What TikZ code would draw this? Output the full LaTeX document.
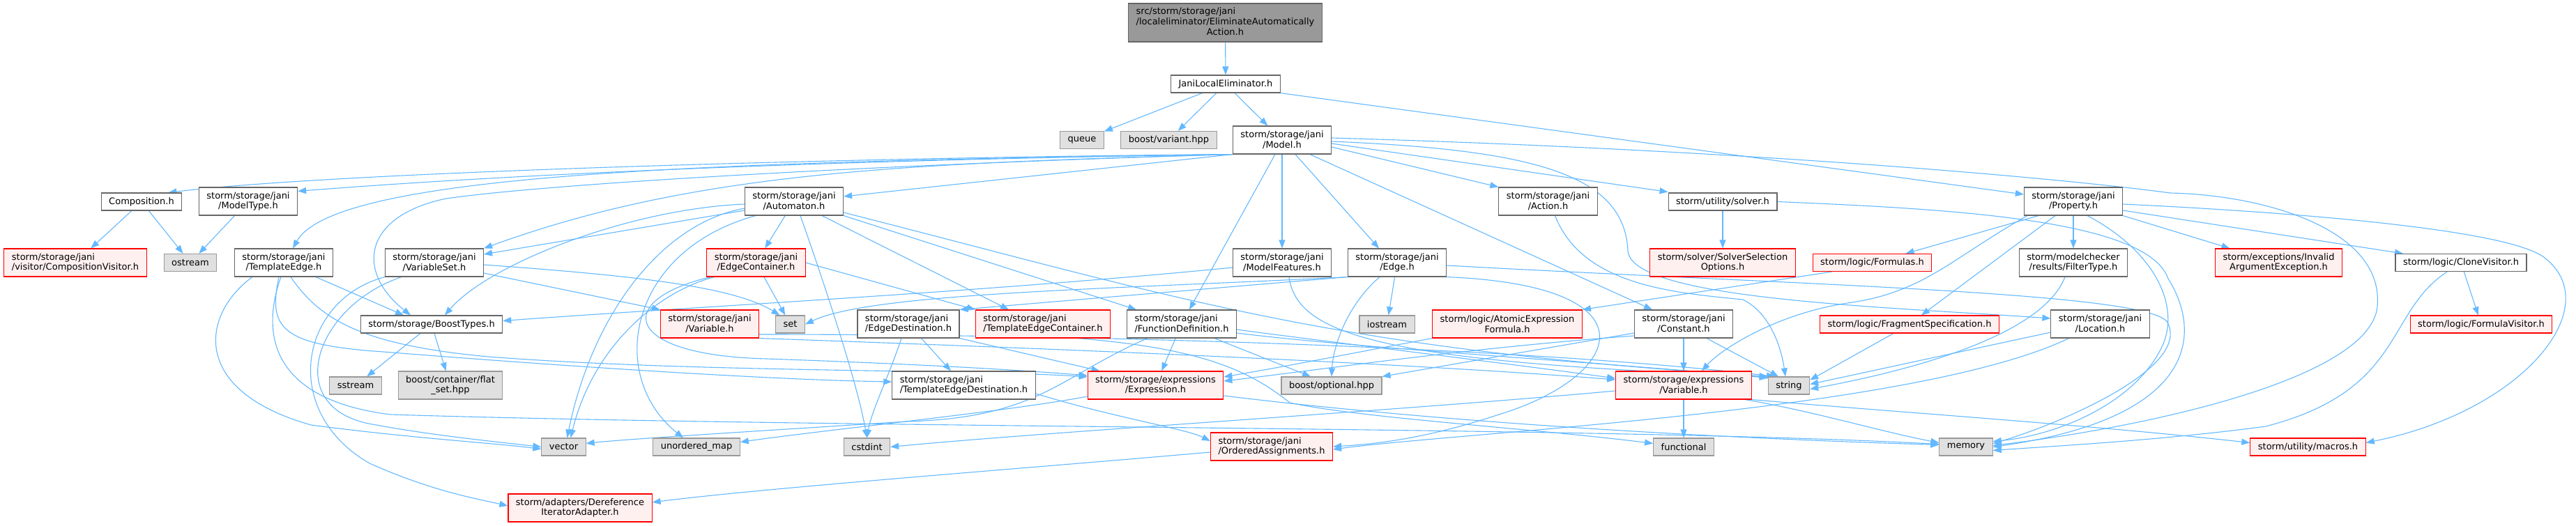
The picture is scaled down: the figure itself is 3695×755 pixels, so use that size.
\documentclass[tikz,border=0pt]{standalone}
\usepackage{fontspec}
\setmainfont{DejaVu Sans}
\usetikzlibrary{arrows.meta}
\definecolor{edgeblue}{HTML}{63B8FF}
\definecolor{boxgray}{HTML}{666666}
\definecolor{sysgray}{HTML}{999999}
\definecolor{sysfill}{HTML}{E0E0E0}
\definecolor{truncfill}{HTML}{FFF0F0}
\definecolor{focusfill}{HTML}{999999}
\newcommand\dxfont{\fontsize{13}{14.7}\selectfont}
\pgfdeclarelayer{bg}
\pgfsetlayers{bg,main}
\tikzset{
  hdr/.style={draw=boxgray,line width=1.1pt,fill=white,font=\dxfont,align=center,
    inner xsep=11pt,inner ysep=2pt,minimum height=25pt},
  tworow/.style={minimum height=40pt},
  sys/.style={hdr,draw=sysgray,fill=sysfill},
  trunc/.style={hdr,draw=red,fill=truncfill},
  dep/.style={draw=edgeblue,line width=1.1pt,-{Triangle[length=12pt,width=9pt]}},
}
\begin{document}
\begin{tikzpicture}[x=1pt,y=-1pt]
\useasboundingbox (0,0) rectangle (3695,755);
% rank 0-2
\node[hdr,fill=focusfill,minimum height=55pt] (focus) at (1757.5,32.5)
  {\begin{tabular}{@{}l@{}}src/storm/storage/jani\\/localeliminator/EliminateAutomatically\\\multicolumn{1}{@{}c@{}}{Action.h}\end{tabular}};
\node[hdr] (jle) at (1758,120.5) {JaniLocalEliminator.h};
\node[sys] (queue) at (1552,201) {queue};
\node[sys] (variant) at (1676.5,201) {boost/variant.hpp};
\node[hdr,tworow] (model) at (1839,201) {storm/storage/jani\\/Model.h};
% rank 3
\node[hdr] (composition) at (203,289.5) {Composition.h};
\node[hdr,tworow] (modeltype) at (356,289) {storm/storage/jani\\/ModelType.h};
\node[hdr,tworow] (automaton) at (1139,289) {storm/storage/jani\\/Automaton.h};
\node[hdr,tworow] (action) at (2220.5,289) {storm/storage/jani\\/Action.h};
\node[hdr] (solver) at (2471,289.5) {storm/utility/solver.h};
\node[hdr,tworow] (property) at (2974,289) {storm/storage/jani\\/Property.h};
% rank 4
\node[trunc,tworow,align=left] (compvisitor) at (108,377) {storm/storage/jani\\/visitor/CompositionVisitor.h};
\node[sys] (ostream) at (273,377) {ostream};
\node[hdr,tworow] (tedge) at (407,377) {storm/storage/jani\\/TemplateEdge.h};
\node[hdr,tworow] (varset) at (623,377) {storm/storage/jani\\/VariableSet.h};
\node[trunc,tworow] (edgecont) at (1084.5,377) {storm/storage/jani\\/EdgeContainer.h};
\node[hdr,tworow] (features) at (1839,377) {storm/storage/jani\\/ModelFeatures.h};
\node[hdr,tworow] (janiedge) at (2004,377) {storm/storage/jani\\/Edge.h};
\node[trunc,tworow] (solveropt) at (2471,377) {storm/solver/SolverSelection\\Options.h};
\node[trunc] (formulas) at (2685.5,377) {storm/logic/Formulas.h};
\node[hdr,tworow] (filtertype) at (2974,377) {storm/modelchecker\\/results/FilterType.h};
\node[trunc,tworow] (invalidarg) at (3268.5,377) {storm/exceptions/Invalid\\ArgumentException.h};
\node[hdr] (clonevis) at (3530,377) {storm/logic/CloneVisitor.h};
% rank 5
\node[hdr] (boosttypes) at (619,465.5) {storm/storage/BoostTypes.h};
\node[trunc,tworow] (janivar) at (1018,465) {storm/storage/jani\\/Variable.h};
\node[sys] (stdset) at (1133.5,465.5) {set};
\node[hdr,tworow,align=left] (edgedest) at (1303,465) {storm/storage/jani\\/EdgeDestination.h};
\node[trunc,tworow,align=left] (tecont) at (1496,465) {storm/storage/jani\\/TemplateEdgeContainer.h};
\node[hdr,tworow,align=left] (fundef) at (1695,465) {storm/storage/jani\\/FunctionDefinition.h};
\node[sys] (iostream) at (1989.5,465.5) {iostream};
\node[trunc,tworow] (atomic) at (2162,465) {storm/logic/AtomicExpression\\Formula.h};
\node[hdr,tworow] (constant) at (2415,465) {storm/storage/jani\\/Constant.h};
\node[trunc] (fragment) at (2739,465.5) {storm/logic/FragmentSpecification.h};
\node[hdr,tworow] (location) at (3012.5,465) {storm/storage/jani\\/Location.h};
\node[trunc] (formvis) at (3559,465.5) {storm/logic/FormulaVisitor.h};
% rank 6
\node[sys] (sstream) at (510,553.5) {sstream};
\node[sys,tworow] (flatset) at (646,553) {boost/container/flat\\\_set.hpp};
\node[hdr,tworow,align=left] (tedgedest) at (1382.5,553) {storm/storage/jani\\/TemplateEdgeDestination.h};
\node[trunc,tworow] (expression) at (1657.5,553) {storm/storage/expressions\\/Expression.h};
\node[sys] (optional) at (1910,553.5) {boost/optional.hpp};
\node[trunc,tworow] (exprvar) at (2415,553) {storm/storage/expressions\\/Variable.h};
\node[sys] (stdstring) at (2566,553.5) {string};
% rank 7-8
\node[sys] (stdvector) at (808.5,641.5) {vector};
\node[sys] (umap) at (999,641.5) {unordered\_map};
\node[sys] (cstdint) at (1243.5,641.5) {cstdint};
\node[trunc,tworow,align=left] (ordered) at (1824,641) {storm/storage/jani\\/OrderedAssignments.h};
\node[sys] (functional) at (2415,641.5) {functional};
\node[sys] (stdmemory) at (2820,641.5) {memory};
\node[trunc] (macros) at (3310.5,641.5) {storm/utility/macros.h};
\node[trunc,tworow] (deref) at (832,729) {storm/adapters/Dereference\\IteratorAdapter.h};

\begin{pgfonlayer}{bg}
% top
\draw[dep] (focus) -- (jle);
\draw[dep] (jle) -- (queue);
\draw[dep] (jle) -- (variant);
\draw[dep] (jle) -- (model);
\draw[dep] (jle.south east) -- ([yshift=10pt]property.west);
% Model.h
\draw[dep] (model.south west) .. controls (1300,225) and (500,245) .. ([xshift=-20pt]composition.north east);
\draw[dep] (model.south west) .. controls (1300,228) and (800,245) .. ([yshift=-6pt]modeltype.north east);
\draw[dep] (model.south west) .. controls (1000,232) and (480,250) .. ([xshift=13pt]tedge.north);
\draw[dep] (model.south west) .. controls (1300,235) and (800,262) .. (640,285) .. controls (520,310) and (510,390) .. ([xshift=-30pt]boosttypes.north);
\draw[dep] (model.south west) .. controls (1300,235) and (1000,245) .. (varset.north east);
\draw[dep] (model.south west) -- ([yshift=7pt]automaton.east);
\draw[dep] ([xshift=-10pt]model.south) -- ([xshift=11pt]fundef.north);
\draw[dep] (model) -- (features);
\draw[dep] ([xshift=19pt]model.south) -- ([xshift=-26pt]janiedge.north);
\draw[dep] ([xshift=40pt]model.south) -- ([xshift=-45pt]constant.north);
\draw[dep] ([yshift=-10pt]model.east) -- (action.north west);
\draw[dep] ([yshift=-5pt]model.east) -- ([yshift=14pt]solver.west);
\draw[dep] ([yshift=-2pt]model.east) .. controls (2200,215) and (2330,250) .. (2335,360) .. controls (2340,430) and (2700,440) .. ([yshift=8pt]location.west);
\draw[dep] ([yshift=3pt]model.east) .. controls (2500,215) and (2950,255) .. (3113,277) .. controls (3250,280) and (3420,330) .. (3410,440) .. controls (3400,540) and (3100,610) .. ([yshift=2pt]stdmemory.east);
% left part
\draw[dep] (composition) -- (compvisitor);
\draw[dep] (composition) -- (ostream);
\draw[dep] (modeltype) -- (ostream);
\draw[dep] ([xshift=46pt]tedge.south) -- ([xshift=-40pt]boosttypes.north);
\draw[dep] ([xshift=-45pt]tedge.south) .. controls (290,450) and (270,560) .. (446,610) .. controls (600,630) and (700,635) .. ([yshift=-3pt]stdvector.west);
\draw[dep] ([xshift=-7pt]tedge.south) .. controls (385,470) and (400,495) .. (550,505) .. controls (800,525) and (1100,545) .. ([yshift=5pt]tedgedest.west);
\draw[dep] ([xshift=10pt]tedge.south) .. controls (460,460) and (520,495) .. (700,512) .. controls (1000,535) and (1400,530) .. ([yshift=12pt]expression.west);
\draw[dep] ([xshift=-4pt]tedge.south) .. controls (370,490) and (400,575) .. (560,595) .. controls (1200,615) and (2300,612) .. ([yshift=4pt]stdmemory.west);
\draw[dep] (boosttypes) -- (sstream);
\draw[dep] (boosttypes) -- (flatset);
% VariableSet.h
\draw[dep] ([yshift=-3pt]varset.east) .. controls (900,395) and (1050,410) .. ([xshift=-15pt]stdset.north);
\draw[dep] ([yshift=-15pt]varset.east) -- (janivar.north west);
\draw[dep] ([xshift=-47pt]varset.south) .. controls (450,440) and (400,590) .. (540,610) .. controls (620,625) and (720,635) .. (stdvector.west);
\draw[dep] (varset.south west) .. controls (430,430) and (400,590) .. (530,665) .. controls (620,705) and (680,715) .. ([yshift=3pt]deref.west);
% Automaton.h
\draw[dep] ([yshift=-13pt]automaton.west) -- ([yshift=12pt]varset.east);
\draw[dep] ([yshift=-4pt]automaton.west) .. controls (900,300) and (700,380) .. ([xshift=19pt]boosttypes.north);
\draw[dep] ([yshift=-10pt]automaton.west) .. controls (950,320) and (850,450) .. ([xshift=5pt]stdvector.north);
\draw[dep] ([xshift=-55pt]automaton.south) .. controls (900,360) and (870,540) .. ([xshift=-19pt]umap.north);
\draw[dep] (automaton) -- (edgecont);
\draw[dep] ([xshift=9pt]automaton.south) .. controls (1180,400) and (1230,550) .. (cstdint.north);
\draw[dep] ([xshift=40pt]automaton.south) -- ([xshift=-49pt]tecont.north);
\draw[dep] (automaton.south east) -- ([xshift=-65pt]fundef.north);
\draw[dep] ([yshift=-16pt]automaton.east) .. controls (1700,430) and (1900,500) .. (stdstring.north west);
% EdgeContainer.h
\draw[dep] (edgecont) -- (stdset);
\draw[dep] ([xshift=-60pt]edgecont.south) .. controls (940,420) and (850,500) .. ([xshift=10pt]stdvector.north);
\draw[dep] ([xshift=-65pt]edgecont.south) .. controls (880,430) and (890,510) .. (1100,515) .. controls (1300,522) and (1450,530) .. ([yshift=14pt]expression.west);
\draw[dep] (edgecont.east) -- (tecont.north west);
% jani Variable.h
\draw[dep] (janivar.south east) .. controls (1500,500) and (2000,520) .. ([yshift=8pt]exprvar.west);
\draw[dep] ([yshift=-15pt]janivar.east) .. controls (1600,480) and (2200,500) .. ([xshift=-20pt]stdstring.north);
% EdgeDestination.h and others
\draw[dep] (edgedest) -- (tedgedest);
\draw[dep] ([xshift=-10pt]edgedest.south) .. controls (1275,540) and (1250,590) .. (cstdint.north);
\draw[dep] (edgedest.south east) -- ([xshift=-80pt]expression.north);
\draw[dep] ([yshift=-12pt]tedgedest.east) .. controls (1600,600) and (1700,615) .. ([yshift=8pt]ordered.west);
\draw[dep] ([xshift=50pt]tecont.south) .. controls (1720,500) and (1790,530) .. (1850,578) .. controls (1950,600) and (2200,615) .. ([yshift=5pt]functional.west);
% FunctionDefinition.h
\draw[dep] (fundef) -- (expression);
\draw[dep] ([xshift=47pt]fundef.south) -- ([xshift=-30pt]optional.north);
\draw[dep] ([yshift=-13pt]fundef.east) .. controls (1950,500) and (2300,520) .. ([yshift=-2pt]stdstring.north west);
\draw[dep] ([yshift=-8pt]fundef.east) .. controls (1900,490) and (2150,520) .. ([yshift=10pt]exprvar.west);
\draw[dep] ([xshift=-49pt]fundef.south) .. controls (1520,540) and (1490,600) .. (1300,605) .. controls (1100,618) and (900,630) .. ([yshift=5pt]stdvector.east);
% Expression.h
\draw[dep] ([yshift=-16pt]expression.west) .. controls (1450,590) and (1200,615) .. ([yshift=7pt]umap.east);
\draw[dep] ([yshift=-15pt]expression.east) .. controls (2100,610) and (2500,630) .. ([yshift=3pt]stdmemory.west);
\draw[dep] (atomic.south west) .. controls (1950,505) and (1850,525) .. ([yshift=12pt]expression.east);
% Constant.h
\draw[dep] (constant) -- (exprvar);
\draw[dep] ([xshift=33pt]constant.south) -- ([xshift=-15pt]stdstring.north);
\draw[dep] ([yshift=-13pt]constant.west) -- (optional.north east);
\draw[dep] ([yshift=-17pt]constant.west) .. controls (2100,500) and (1900,530) .. ([yshift=6pt]expression.east);
% expressions Variable.h
\draw[dep] (exprvar) -- (functional);
\draw[dep] ([yshift=-8pt]exprvar.west) .. controls (2000,590) and (1500,620) .. (cstdint.east);
\draw[dep] ([xshift=-10pt]exprvar.south east) .. controls (2600,590) and (2700,620) .. ([yshift=6pt]stdmemory.west);
\draw[dep] (exprvar.south east) .. controls (2700,590) and (3000,610) .. ([yshift=6pt]macros.west);
\draw[dep] ([yshift=-8pt]ordered.west) .. controls (1500,670) and (1100,700) .. ([yshift=8pt]deref.east);
% Edge.h
\draw[dep] (janiedge) -- (iostream);
\draw[dep] ([xshift=-25pt]janiedge.south) .. controls (1930,440) and (1912,500) .. (optional.north);
\draw[dep] (janiedge.south west) -- (edgedest.north east);
\draw[dep] (janiedge.south west) .. controls (1600,415) and (1250,420) .. (stdset.east);
\draw[dep] (janiedge.south east) .. controls (2380,410) and (2330,540) .. (2150,595) .. controls (2050,628) and (1980,637) .. (ordered.east);
\draw[dep] ([yshift=-4pt]janiedge.east) .. controls (2600,410) and (3100,420) .. (3110,465) .. controls (3140,530) and (2950,610) .. ([yshift=5pt]stdmemory.east);
% ModelFeatures.h, Action.h, solver.h
\draw[dep] ([yshift=-7pt]features.west) .. controls (1400,420) and (1000,440) .. ([yshift=5pt]boosttypes.east);
\draw[dep] ([xshift=10pt]features.south) .. controls (1860,480) and (1980,520) .. (stdstring.north west);
\draw[dep] ([xshift=10pt]action.south) .. controls (2270,410) and (2400,420) .. (2500,430) .. controls (2540,450) and (2555,500) .. ([xshift=-5pt]stdstring.north);
\draw[dep] (solver) -- (solveropt);
\draw[dep] (solver.east) .. controls (2800,300) and (3080,315) .. (3110,400) .. controls (3160,480) and (3150,600) .. (stdmemory.east);
% Property.h
\draw[dep] ([xshift=-50pt]property.south) -- ([xshift=48pt]formulas.north);
\draw[dep] ([xshift=-66pt]property.south) .. controls (2800,370) and (2760,420) .. (2650,435) .. controls (2550,450) and (2470,500) .. ([xshift=26pt]exprvar.north);
\draw[dep] ([xshift=-26pt]property.south) -- ([xshift=17pt]fragment.north);
\draw[dep] (property) -- (filtertype);
\draw[dep] ([xshift=20pt]property.south) .. controls (3090,360) and (3130,440) .. (3100,500) .. controls (3060,580) and (2950,625) .. ([yshift=8pt]stdmemory.east);
\draw[dep] (property.south east) -- ([xshift=-70pt]invalidarg.north);
\draw[dep] ([yshift=-13pt]property.east) -- ([xshift=-83pt]clonevis.north);
\draw[dep] ([yshift=-4pt]property.east) .. controls (3300,305) and (3600,330) .. (3650,370) .. controls (3740,440) and (3620,590) .. ([yshift=6pt]macros.east);
% right part
\draw[dep] ([xshift=-58pt]formulas.south) -- (atomic.north east);
\draw[dep] ([xshift=-12pt]filtertype.south) .. controls (2930,480) and (2750,530) .. ([yshift=-5pt]stdstring.east);
\draw[dep] ([xshift=-23pt]fragment.south) -- ([yshift=8pt]stdstring.east);
\draw[dep] ([yshift=-12pt]location.west) -- ([yshift=2pt]stdstring.east);
\draw[dep] ([xshift=-45pt]location.south) .. controls (2750,590) and (2100,620) .. ([yshift=-4pt]ordered.east);
\draw[dep] (clonevis) -- (formvis);
\draw[dep] ([xshift=-20pt]clonevis.south) .. controls (3420,450) and (3450,560) .. (3250,612) .. controls (3100,632) and (2950,640) .. ([yshift=-5pt]stdmemory.east);
\end{pgfonlayer}
\end{tikzpicture}
\end{document}
